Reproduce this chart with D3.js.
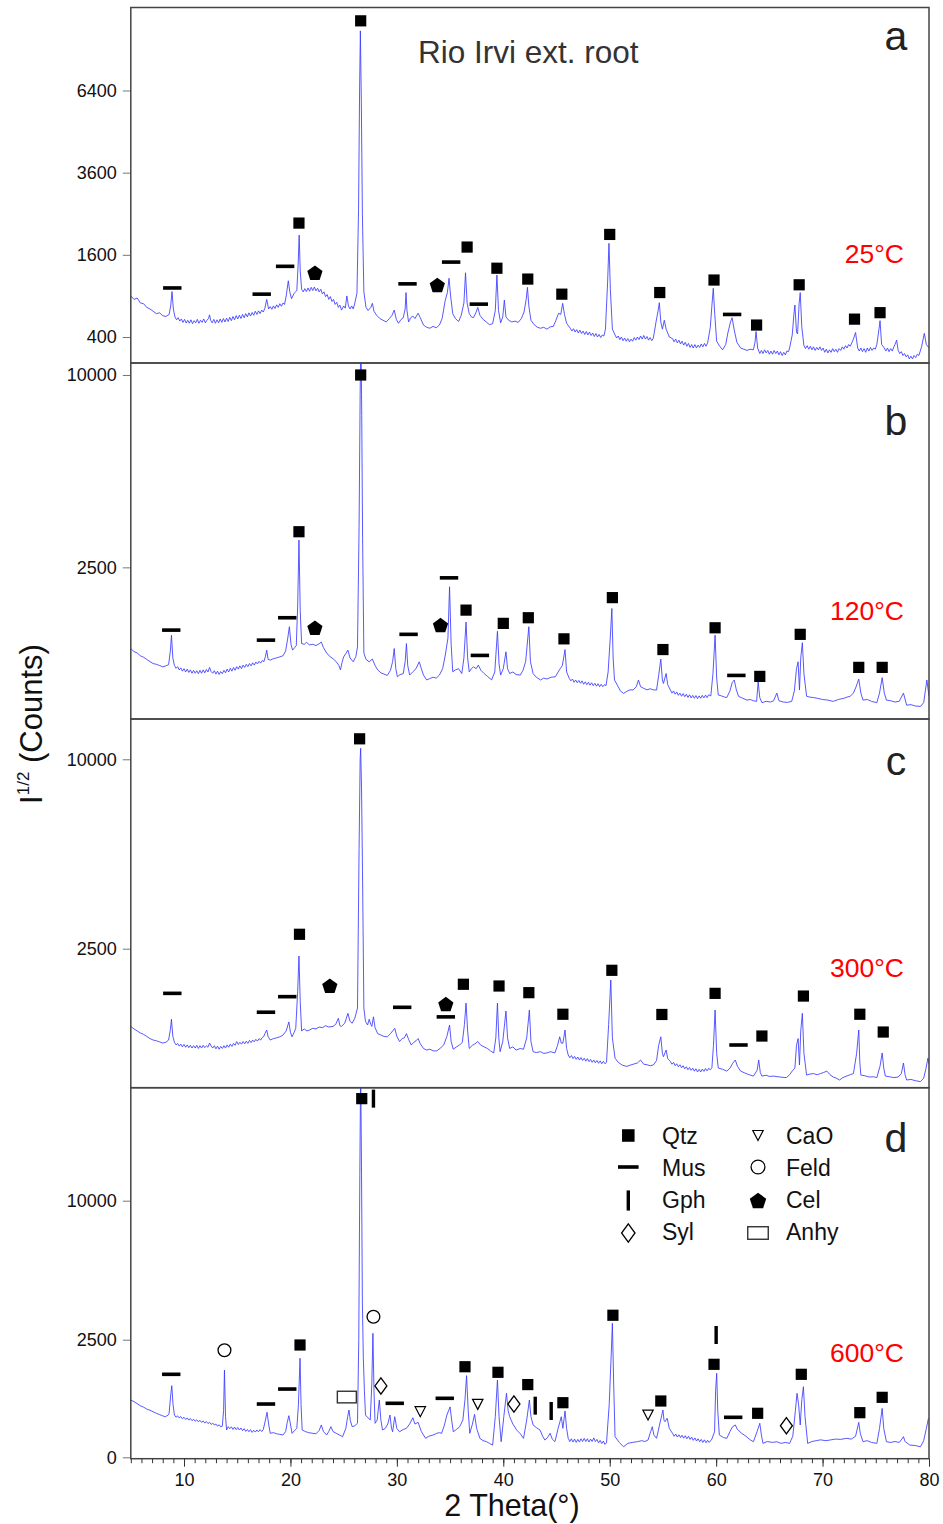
<!DOCTYPE html>
<html>
<head>
<meta charset="utf-8">
<style>
  body { margin: 0; background: #fff; }
  text { font-family: "Liberation Sans", Arial, sans-serif; }
</style>
</head>
<body>
<div id="chart-area"></div>

<script src="https://cdn.jsdelivr.net/npm/d3@7"></script>
<script>

// ---- data ----
const panelLetters = ["a", "b", "c", "d"];
const panelTemps = ["25°C", "120°C", "300°C", "600°C"];
const sampleTitle = "Rio Irvi ext. root";

const yTicksA = [400, 1600, 3600, 6400];
const yTicksB = [2500, 10000];
const yTicksC = [2500, 10000];
const yTicksD = [0, 2500, 10000];

const yDomainA = [187, 10040];
const yDomainB = [112, 10580];
const yDomainC = [177, 12240];
const yDomainD = [0, 2500, 10000];

const xMajorTicks = [10, 20, 30, 40, 50, 60, 70, 80];
const xMinorTicks = d3.range(5, 81);

// [2theta, counts]
const scanA = [[5.0,900],[5.3,850],[5.6,870],[5.9,800],[6.2,790],[6.5,740],[6.8,720],[7.1,690],[7.4,660],[7.7,670],[8.0,635],[8.3,625],[8.6,650],[8.75,760],[8.87,965],[9.0,720],
[9.15,620],[9.3,585],[9.45,610],[9.6,570],[9.75,595],[9.9,555],[10.05,590],[10.2,548],[10.35,580],[10.5,545],[10.65,585],[10.8,540],[10.95,575],[11.1,550],[11.25,590],[11.4,545],[11.55,580],[11.7,555],[11.85,595],[12.0,550],[12.15,580],[12.3,600],[12.4,645],[12.5,580],[12.65,550],[12.8,590],[12.95,545],[13.1,585],[13.25,550],[13.4,595],[13.55,555],[13.7,600],[13.85,560],[14.0,605],[14.15,565],[14.3,615],[14.45,575],[14.6,625],[14.75,585],[14.9,635],[15.05,595],[15.2,640],[15.35,600],[15.5,650],[15.65,610],[15.8,660],[15.95,620],[16.1,670],[16.25,630],[16.4,675],[16.55,640],[16.7,690],[16.85,650],[17.0,695],[17.15,660],[17.3,705],[17.45,680],[17.6,730],
[17.77,850],[17.95,720],[18.1,750],[18.25,715],[18.4,760],[18.55,725],[18.7,775],[18.85,740],[19.0,790],[19.15,755],[19.3,800],[19.45,780],[19.6,900],
[19.8,1135],[19.95,950],[20.1,860],[20.35,940],[20.6,980],[20.72,1400],[20.82,2008],[20.92,1300],
[21.05,1000],[21.2,960],[21.35,1010],[21.5,965],[21.65,1020],[21.8,970],[21.95,1030],[22.1,980],[22.25,1035],[22.4,975],[22.55,1015],[22.7,960],[22.85,1000],[23.0,930],[23.15,960],[23.3,890],[23.45,920],[23.6,850],[23.75,890],[23.9,820],[24.05,850],[24.2,780],[24.35,810],[24.5,740],[24.65,770],[24.8,705],[25.0,760],[25.15,730],[25.3,900],[25.45,760],[25.6,720],[25.75,760],[25.9,720],[26.05,800],
[26.25,940],[26.4,2600],[26.5,6500],[26.57,8934],[26.66,6000],[26.76,2500],[26.9,960],[27.1,740],[27.3,700],[27.55,740],[27.7,795],[27.85,690],[28.1,640],[28.4,600],[28.7,580],[29.0,560],[29.3,600],[29.55,640],[29.75,705],[29.95,590],[30.15,545],[30.4,590],[30.6,610],[30.78,720],[30.86,950],[30.95,700],[31.1,560],[31.3,610],[31.5,630],[31.7,600],[32.0,665],[32.2,610],[32.5,525],[32.8,500],[33.1,490],[33.4,510],[33.7,495],[34.0,525],[34.25,600],[34.55,840],[34.75,950],[34.9,1176],[35.05,900],[35.25,660],[35.5,600],[35.8,565],[36.05,640],[36.3,800],[36.45,1270],[36.6,800],[36.8,660],[37.0,620],[37.2,610],[37.45,680],[37.6,740],[37.8,640],[38.1,590],[38.4,560],[38.7,530],[39.0,540],[39.25,700],[39.4,1230],[39.55,700],[39.75,550],[39.95,620],[40.1,840],[40.25,620],[40.5,580],[40.8,560],[41.1,570],[41.4,555],[41.7,600],[41.95,680],[42.15,850],[42.27,1030],[42.4,760],[42.6,580],[42.9,530],[43.2,500],[43.5,490],[43.8,500],[44.1,480],[44.4,505],[44.7,510],[44.95,580],[45.2,665],[45.4,650],[45.58,795],[45.75,650],[45.95,545],
[46.3,490],[46.45,460],[46.6,485],[46.75,450],[46.9,475],[47.05,440],[47.2,470],[47.35,435],[47.5,460],[47.65,425],[47.8,455],[47.95,420],[48.1,450],[48.25,415],[48.4,440],[48.55,405],[48.7,435],[48.85,400],[49.0,425],[49.15,395],[49.3,420],[49.45,410],[49.6,480],
[49.8,1100],[49.93,1832],[50.06,1000],[50.25,480],
[50.5,420],[50.65,390],[50.8,410],[50.95,375],[51.1,400],[51.25,365],[51.4,390],[51.55,360],[51.7,385],[51.85,355],[52.0,380],[52.15,360],[52.3,395],[52.45,370],[52.6,400],[52.75,375],[52.9,410],[53.05,380],[53.2,415],[53.35,380],[53.5,405],[53.65,370],[53.8,395],[53.95,365],[54.1,390],
[54.35,560],[54.55,700],[54.66,804],[54.8,560],[54.95,480],[55.13,580],[55.3,480],[55.6,400],
[55.9,385],[56.05,355],[56.2,380],[56.35,345],[56.5,370],[56.65,335],[56.8,360],[56.95,325],[57.1,350],[57.25,315],[57.4,340],[57.55,305],[57.7,330],[57.85,300],[58.0,330],[58.15,300],[58.3,325],[58.45,305],[58.6,335],[58.75,310],[58.9,340],[59.05,315],[59.2,345],
[59.45,500],[59.6,760],[59.73,1015],[59.87,650],[60.05,360],[60.3,320],[60.6,285],[60.9,330],[61.1,440],[61.35,560],[61.5,610],[61.7,470],[61.95,350],[62.3,300],[62.6,290],[62.9,280],[63.2,290],[63.5,285],[63.65,350],[63.75,455],[63.9,300],
[64.1,255],[64.25,280],[64.4,255],[64.55,285],[64.7,260],[64.85,280],[65.0,250],[65.15,275],[65.3,250],[65.45,280],[65.6,255],[65.75,275],[65.9,245],[66.05,270],[66.2,240],[66.35,265],[66.5,245],[66.65,275],[66.8,270],[66.9,300],
[67.15,420],[67.3,640],[67.4,772],[67.55,450],[67.65,430],[67.8,800],[67.9,949],[68.05,500],
[68.25,320],[68.4,295],[68.55,320],[68.7,290],[68.85,315],[69.0,285],[69.15,310],[69.3,280],[69.45,305],[69.6,285],[69.75,310],[69.9,280],[70.05,300],[70.2,265],[70.35,290],[70.5,260],[70.65,285],[70.8,265],[70.95,295],[71.1,270],[71.25,290],[71.4,265],[71.55,295],[71.7,280],[71.85,310],[72.0,290],[72.15,320],[72.3,300],[72.45,330],[72.6,315],[72.75,345],[72.9,380],
[73.1,445],[73.3,300],[73.45,275],[73.6,300],[73.75,270],[73.9,295],[74.05,265],[74.2,300],[74.35,275],[74.5,305],[74.65,280],[74.8,300],[74.95,290],[75.1,330],
[75.3,480],[75.4,575],[75.55,330],
[75.8,300],[75.95,275],[76.1,300],[76.25,270],[76.4,295],[76.55,275],[76.7,310],[76.8,330],[76.96,370],[77.1,280],[77.25,255],[77.4,270],[77.55,240],[77.7,255],[77.85,230],[78.0,245],[78.15,215],[78.3,235],[78.45,215],[78.6,240],[78.75,225],[78.9,250],[79.05,240],
[79.3,310],[79.56,437],[79.75,330],[80.0,300]];

const scanB = [[5.0,835],[5.3,790],[5.6,770],[5.9,730],[6.2,710],[6.5,680],[6.8,650],[7.1,625],[7.4,615],[7.7,600],[8.0,583],[8.3,595],[8.55,610],[8.72,800],[8.82,1049],[8.95,700],
[9.1,600],[9.25,565],[9.4,585],[9.55,545],[9.7,570],[9.85,530],[10.0,560],[10.15,520],[10.3,555],[10.45,515],[10.6,545],[10.75,505],[10.9,540],[11.05,505],[11.2,535],[11.35,500],[11.5,540],[11.65,505],[11.8,545],[11.95,510],[12.1,550],[12.25,520],[12.4,575],[12.55,525],[12.7,505],[12.85,535],[13.0,495],[13.15,530],[13.3,490],[13.45,525],[13.6,500],[13.75,540],[13.9,510],[14.05,555],[14.2,520],[14.35,565],[14.5,530],[14.65,575],[14.8,540],[14.95,585],[15.1,555],[15.25,595],[15.4,560],[15.55,605],[15.7,575],[15.85,615],[16.0,585],[16.15,625],[16.3,595],[16.45,635],[16.6,605],[16.75,645],[16.9,620],[17.05,655],[17.2,630],[17.35,665],[17.5,650],
[17.65,720],[17.77,811],[17.9,680],[18.1,670],[18.4,690],[18.7,700],[19.0,715],[19.3,730],[19.55,800],[19.75,1000],[19.9,1195],[20.05,900],[20.2,811],[20.4,850],[20.55,880],[20.68,1600],[20.8,3260],[20.92,1500],[21.05,912],[21.3,900],[21.5,930],[21.8,890],[22.1,900],[22.4,880],[22.7,910],[22.9,935],[23.1,850],[23.4,770],[23.7,720],[24.0,690],[24.3,650],[24.55,600],[24.7,545],[24.85,640],[25.0,715],[25.2,760],[25.4,811],[25.6,700],[25.9,648],[26.15,720],[26.3,860],[26.45,3668],[26.55,9000],[26.62,12500],[26.7,8000],[26.78,3300],[26.9,770],[27.1,680],[27.4,648],[27.7,685],[27.95,600],[28.2,545],[28.5,510],[28.8,495],[29.1,480],[29.4,540],[29.6,650],[29.75,835],[29.9,560],[30.05,465],[30.3,490],[30.6,500],[30.78,650],[30.9,912],[31.02,600],[31.2,484],[31.5,522],[31.8,560],[32.1,648],[32.3,560],[32.5,484],[32.8,430],[33.1,445],[33.4,460],[33.7,450],[34.0,484],[34.3,560],[34.55,739],[34.8,1000],[34.95,2021],[35.1,900],[35.25,522],[35.5,545],[35.8,560],[36.1,502],[36.3,700],[36.5,1280],[36.65,700],[36.8,522],[37.0,560],[37.2,583],[37.45,560],[37.65,605],[37.9,540],[38.2,502],[38.5,470],[38.9,430],[39.2,520],[39.45,1115],[39.6,620],[39.75,484],[40.0,560],[40.25,787],[40.4,560],[40.6,502],[40.9,520],[41.2,490],[41.6,484],[41.85,540],[42.1,650],[42.4,1195],[42.55,650],[42.8,502],[43.1,460],[43.5,430],[43.8,450],[44.1,440],[44.5,460],[44.9,465],[45.15,520],[45.35,560],[45.55,600],[45.8,820],[45.95,520],
[46.2,447],[46.35,420],[46.5,440],[46.65,405],[46.8,430],[46.95,400],[47.1,425],[47.25,395],[47.4,420],[47.55,385],[47.7,410],[47.85,380],[48.0,405],[48.15,375],[48.3,400],[48.45,370],[48.6,395],[48.75,365],[48.9,390],[49.05,360],[49.2,385],[49.35,360],[49.5,380],[49.65,370],
[49.85,520],[50.05,1000],[50.2,1545],[50.32,700],[50.45,429],[50.8,360],[51.0,320],[51.3,297],[51.6,315],[51.9,330],[52.2,328],[52.5,360],[52.7,429],[52.9,360],[53.2,344],[53.5,330],[53.8,340],[54.1,330],[54.4,328],[54.6,480],[54.8,685],[54.95,430],[55.05,393],[55.3,502],[55.45,380],
[55.7,328],[55.85,300],[56.0,320],[56.15,290],[56.3,310],[56.45,280],[56.6,300],[56.75,272],[56.9,295],[57.05,268],[57.2,290],[57.35,262],[57.5,285],[57.65,258],[57.8,280],[57.95,255],[58.1,278],[58.25,252],[58.4,275],[58.55,255],[58.7,280],[58.85,258],[59.0,282],[59.15,260],[59.3,285],[59.5,275],
[59.7,500],[59.9,1049],[60.05,450],[60.2,283],[60.5,275],[60.8,265],[61.0,261],[61.3,320],[61.5,400],[61.7,429],[61.9,330],[62.1,272],[62.5,255],[62.9,240],[63.2,245],[63.5,235],[63.8,230],[63.95,410],[64.1,260],[64.3,220],[64.7,230],[65.1,225],[65.4,235],[65.7,300],[65.9,235],[66.3,225],[66.7,222],[67.1,230],[67.35,320],[67.55,560],[67.7,648],[67.83,328],[67.95,700],[68.1,925],[68.25,500],[68.5,272],[68.8,265],[69.13,261],[69.5,255],[70.0,245],[70.5,240],[71.0,230],[71.5,245],[72.0,255],[72.3,265],[72.6,272],[72.9,300],[73.15,360],[73.4,440],[73.6,300],[73.8,240],[74.2,245],[74.6,230],[75.1,220],[75.35,300],[75.6,455],[75.8,300],[76.0,240],[76.4,235],[76.8,225],[77.2,230],[77.6,300],[77.9,201],[78.3,205],[78.7,195],[79.2,192],[79.5,220],[79.8,429],[80.0,272]];

const scanC = [[5.0,870],[5.3,830],[5.6,800],[5.9,770],[6.2,750],[6.5,720],[6.8,690],[7.1,670],[7.4,660],[7.7,645],[8.0,630],[8.3,640],[8.55,670],[8.72,820],[8.82,985],[8.95,720],
[9.1,640],[9.25,605],[9.4,625],[9.55,590],[9.7,615],[9.85,580],[10.0,612],[10.15,575],[10.3,605],[10.45,570],[10.6,600],[10.75,565],[10.9,595],[11.05,565],[11.2,600],[11.35,560],[11.5,595],[11.65,565],[11.8,600],[11.95,570],[12.1,595],[12.25,575],[12.4,630],[12.55,590],[12.7,565],[12.85,595],[13.0,555],[13.15,590],[13.3,550],[13.45,585],[13.6,560],[13.75,595],[13.9,565],[14.05,605],[14.2,575],[14.35,615],[14.5,585],[14.65,625],[14.8,600],[14.95,650],[15.1,610],[15.25,640],[15.4,615],[15.55,650],[15.7,620],[15.85,655],[16.0,625],[16.15,665],[16.3,635],[16.45,670],[16.6,645],[16.75,680],[16.9,655],[17.05,690],[17.2,670],[17.35,705],[17.5,720],
[17.6,760],[17.77,814],[17.9,720],[18.1,670],[18.4,690],[18.7,700],[19.0,715],[19.3,740],[19.6,800],[19.85,940],[20.0,780],[20.15,715],[20.35,780],[20.5,840],[20.68,1500],[20.8,2310],[20.92,1300],[21.05,800],[21.3,830],[21.55,800],[21.8,814],[22.1,840],[22.4,830],[22.7,860],[23.0,850],[23.3,880],[23.6,860],[24.0,870],[24.25,900],[24.5,1000],[24.65,880],[24.8,870],[25.1,920],[25.4,1085],[25.6,950],[25.8,920],[26.05,1000],[26.3,1180],[26.45,5850],[26.55,10000],[26.6,10590],[26.68,8500],[26.77,5000],[26.9,1180],[27.05,950],[27.25,891],[27.4,985],[27.55,900],[27.65,870],[27.8,1025],[27.95,850],[28.2,760],[28.5,740],[28.8,720],[29.1,715],[29.4,760],[29.6,800],[29.8,840],[30.0,720],[30.25,650],[30.5,690],[30.7,700],[30.9,760],[31.1,680],[31.35,604],[31.6,640],[31.8,660],[32.0,690],[32.2,620],[32.5,560],[32.8,540],[33.1,550],[33.45,530],[33.75,530],[34.05,560],[34.4,604],[34.7,720],[34.95,891],[35.1,650],[35.3,550],[35.6,580],[35.9,604],[36.15,640],[36.35,900],[36.5,1270],[36.65,800],[36.8,560],[37.1,600],[37.35,620],[37.6,650],[37.9,600],[38.2,580],[38.5,560],[38.8,530],[39.1,505],[39.3,700],[39.45,1270],[39.58,700],[39.7,520],[39.95,650],[40.25,1125],[40.4,700],[40.6,560],[40.9,580],[41.2,540],[41.6,560],[41.9,550],[42.2,700],[42.45,1143],[42.6,650],[42.8,520],[43.1,510],[43.5,520],[43.8,500],[44.07,505],[44.45,520],[44.85,505],[45.1,600],[45.3,715],[45.45,628],[45.6,628],[45.8,814],[45.95,560],
[46.1,481],[46.25,450],[46.4,475],[46.55,440],[46.7,465],[46.85,432],[47.0,458],[47.15,425],[47.3,452],[47.45,420],[47.6,445],[47.75,412],[47.9,440],[48.05,408],[48.2,432],[48.35,400],[48.5,425],[48.65,395],[48.8,420],[48.95,390],[49.1,415],[49.25,385],[49.4,410],[49.55,385],[49.7,400],
[49.9,900],[50.1,1741],[50.25,700],[50.5,445],[50.8,400],[51.2,370],[51.6,358],[51.9,370],[52.2,380],[52.6,393],[52.9,425],[53.2,380],[53.5,375],[53.8,365],[54.1,372],[54.4,420],[54.6,600],[54.8,715],[54.95,500],[55.05,462],[55.3,540],[55.45,440],
[55.7,410],[55.85,380],[56.0,400],[56.15,365],[56.3,385],[56.45,355],[56.6,375],[56.75,345],[56.9,365],[57.05,335],[57.2,355],[57.35,325],[57.5,348],[57.65,320],[57.8,340],[57.95,312],[58.1,335],[58.25,305],[58.4,330],[58.55,305],[58.7,332],[58.85,310],[59.0,338],[59.15,315],[59.3,340],[59.45,325],[59.6,345],
[59.75,600],[59.9,1143],[60.05,500],[60.2,342],[60.6,330],[61.0,313],[61.3,340],[61.55,390],[61.8,425],[62.0,360],[62.3,313],[62.7,295],[63.1,280],[63.5,268],[63.85,320],[64.0,425],[64.15,300],[64.3,268],[64.7,275],[65.0,265],[65.4,268],[65.8,262],[66.2,258],[66.6,255],[66.9,280],[67.2,320],[67.4,342],[67.55,600],[67.7,690],[67.83,372],[67.95,800],[68.1,1085],[68.25,500],[68.5,277],[68.8,285],[69.13,290],[69.5,280],[69.8,290],[70.1,300],[70.4,313],[70.7,280],[71.0,260],[71.3,250],[71.6,235],[71.9,255],[72.3,270],[72.6,280],[72.9,290],[73.2,500],[73.4,814],[73.5,400],[73.6,277],[74.0,270],[74.4,260],[74.8,262],[75.1,255],[75.4,360],[75.6,505],[75.75,340],[75.9,268],[76.3,262],[76.7,255],[77.1,260],[77.4,290],[77.6,393],[77.75,280],[77.9,235],[78.3,240],[78.7,230],[79.2,222],[79.5,250],[79.7,330],[79.9,445],[80.0,380]];

const scanD = [[5.0,593],[5.3,560],[5.6,520],[5.9,480],[6.2,455],[6.5,420],[6.8,400],[7.1,375],[7.4,350],[7.7,330],[8.0,310],[8.25,298],[8.5,320],[8.6,350],[8.75,700],[8.85,927],[8.97,500],
[9.1,323],[9.25,290],[9.4,310],[9.55,280],[9.7,300],[9.85,268],[10.0,290],[10.15,258],[10.3,280],[10.45,250],[10.6,272],[10.75,242],[10.9,262],[11.05,235],[11.2,255],[11.35,228],[11.5,248],[11.65,220],[11.8,240],[11.95,212],[12.1,232],[12.25,205],[12.4,222],[12.55,195],[12.7,212],[12.85,188],[13.0,200],[13.15,175],[13.3,192],[13.45,168],[13.6,175],[13.72,400],[13.8,1376],[13.9,300],[14.0,135],[14.15,170],[14.3,148],[14.45,168],[14.6,140],[14.75,165],[14.9,138],[15.05,160],[15.2,135],[15.35,155],[15.5,128],[15.65,148],[15.8,122],[15.95,140],[16.1,118],[16.25,138],[16.4,112],[16.55,132],[16.7,115],[16.85,135],[17.0,118],[17.15,138],[17.3,120],[17.45,140],
[17.65,250],[17.8,366],[17.95,200],[18.1,104],[18.4,110],[18.7,100],[19.0,95],[19.3,90],[19.55,120],[19.7,220],[19.85,313],[20.0,200],[20.15,104],[20.4,130],[20.6,152],[20.75,500],[20.9,1772],[21.0,500],[21.1,135],[21.4,120],[21.7,110],[22.1,104],[22.4,100],[22.7,130],[22.9,189],[23.1,120],[23.4,90],[23.6,120],[23.8,169],[24.0,120],[24.3,104],[24.6,90],[24.9,77],[25.2,150],[25.38,300],[25.5,404],[25.62,250],[25.8,169],[26.05,180],[26.3,209],[26.42,2500],[26.52,12000],[26.6,22000],[26.68,12000],[26.76,4000],[26.85,1775],[26.95,800],[27.05,323],[27.3,280],[27.5,252],[27.65,1000],[27.75,2735],[27.85,800],[27.95,209],[28.15,250],[28.35,593],[28.5,250],[28.65,135],[28.9,150],[29.15,200],[29.35,323],[29.5,150],[29.6,118],[29.8,298],[30.0,150],[30.25,118],[30.6,140],[30.9,152],[31.2,200],[31.5,283],[31.7,200],[32.0,221],[32.3,120],[32.7,65],[33.0,80],[33.4,90],[33.75,104],[34.0,110],[34.2,104],[34.45,180],[34.7,323],[35.0,460],[35.15,250],[35.3,118],[35.6,140],[35.9,169],[36.2,250],[36.4,600],[36.55,1205],[36.7,400],[36.85,104],[37.1,200],[37.3,334],[37.5,150],[37.8,65],[38.1,50],[38.4,45],[38.7,35],[39.0,27],[39.25,300],[39.45,1080],[39.6,300],[39.8,44],[40.05,300],[40.3,740],[40.45,400],[40.6,298],[40.9,200],[41.25,135],[41.6,100],[41.9,65],[42.2,250],[42.45,593],[42.6,300],[42.8,189],[43.1,160],[43.45,135],[43.7,80],[43.9,54],[44.15,70],[44.4,104],[44.6,60],[44.85,44],[45.15,150],[45.45,298],[45.6,152],[45.8,388],[45.95,150],
[46.1,65],[46.25,45],[46.4,62],[46.55,42],[46.7,60],[46.85,40],[47.0,58],[47.15,42],[47.3,62],[47.45,45],[47.6,65],[47.75,45],[47.9,62],[48.05,42],[48.2,60],[48.35,45],[48.5,68],[48.65,45],[48.8,58],[48.95,38],[49.1,52],[49.25,34],[49.4,48],[49.55,30],[49.7,38],
[49.95,500],[50.15,2000],[50.25,3125],[50.37,1000],[50.5,77],[50.9,40],[51.3,20],[51.7,35],[52.1,40],[52.6,44],[53.0,50],[53.3,45],[53.6,54],[53.85,120],[54.0,169],[54.15,90],[54.4,65],[54.7,200],[55.0,404],[55.1,250],[55.2,229],[55.4,275],[55.6,150],
[55.9,104],[56.05,80],[56.2,98],[56.35,74],[56.5,92],[56.65,70],[56.8,88],[56.95,66],[57.1,84],[57.25,62],[57.4,80],[57.55,58],[57.7,74],[57.85,52],[58.0,68],[58.15,48],[58.3,62],[58.45,44],[58.6,58],[58.75,40],[58.9,55],[59.05,38],[59.2,52],[59.35,40],[59.6,60],
[59.85,118],[59.95,800],[60.05,1275],[60.15,400],[60.3,90],[60.7,70],[61.0,65],[61.3,120],[61.55,170],[61.8,189],[62.0,140],[62.4,104],[62.8,80],[63.2,55],[63.5,44],[63.85,120],[64.1,209],[64.25,90],[64.4,35],[64.8,45],[65.3,40],[65.7,44],[66.1,35],[66.5,40],[66.9,35],[67.2,80],[67.45,400],[67.6,740],[67.75,500],[67.9,189],[68.05,600],[68.2,900],[68.35,300],[68.6,35],[69.0,45],[69.4,50],[69.8,55],[70.3,50],[70.7,54],[71.2,60],[71.7,58],[72.26,65],[72.7,60],[73.1,80],[73.4,221],[73.55,100],[73.8,44],[74.2,50],[74.6,40],[75.1,35],[75.35,150],[75.6,432],[75.75,150],[76.0,44],[76.4,40],[76.8,45],[77.2,40],[77.45,60],[77.6,77],[77.75,45],[78.2,27],[78.7,25],[79.2,20],[79.5,50],[79.75,150],[79.95,275]];

// phase markers: [phase, 2theta, counts at marker centre]
const marksA = [["Mus",8.9,1020],["Mus",17.3,926],["Mus",19.5,1384],["Qtz",20.8,2278],["Cel",22.3,1270],["Qtz",26.6,9400],["Mus",31.0,1085],["Cel",33.8,1066],["Mus",35.1,1462],["Qtz",36.6,1755],["Mus",37.7,784],["Qtz",39.4,1350],["Qtz",42.3,1163],["Qtz",45.5,926],["Qtz",50.0,2022],["Qtz",54.7,950],["Qtz",59.8,1147],["Mus",61.5,650],["Qtz",63.8,525],["Qtz",67.8,1070],["Qtz",73.0,593],["Qtz",75.4,672]];
const marksB = [["Mus",8.8,1135],["Mus",17.7,966],["Mus",19.7,1362],["Qtz",20.8,3512],["Cel",22.3,1176],["Qtz",26.6,10000],["Mus",31.1,1062],["Cel",34.1,1225],["Mus",34.9,2235],["Qtz",36.5,1512],["Mus",37.8,735],["Qtz",40.0,1256],["Qtz",42.35,1362],["Qtz",45.7,987],["Qtz",50.25,1775],["Qtz",55.0,820],["Qtz",59.9,1176],["Mus",61.9,480],["Qtz",64.1,469],["Qtz",67.9,1062],["Qtz",73.4,576],["Qtz",75.6,576]];
const marksC = [["Mus",8.9,1460],["Mus",17.7,1104],["Mus",19.7,1394],["Qtz",20.85,2895],["Cel",23.7,1617],["Qtz",26.5,11110],["Mus",30.5,1192],["Cel",34.6,1252],["Mus",34.6,1024],["Qtz",36.25,1649],["Qtz",39.6,1612],["Qtz",42.4,1474],["Qtz",45.6,1069],["Qtz",50.2,1962],["Qtz",54.9,1065],["Qtz",59.9,1460],["Mus",62.1,604],["Qtz",64.3,726],["Qtz",68.2,1406],["Qtz",73.5,1069],["Qtz",75.7,784]];
const marksD = [["Mus",8.8,1245],["Feld",13.8,2070],["Mus",17.7,513],["Mus",19.7,842],["Qtz",20.9,2280],["Anhy",25.3,656],["Qtz",26.7,18690],["Gph",27.8,18690],["Feld",27.8,3395],["Syl",28.5,920],["Mus",29.8,527],["CaO",32.2,376],["Mus",34.5,629],["Qtz",36.4,1483],["CaO",37.6,507],["Qtz",39.5,1306],["Syl",41.0,513],["Qtz",42.3,956],["Gph",43.0,482],["Gph",44.5,388],["Qtz",45.6,539],["Qtz",50.3,3457],["CaO",53.6,323],["Qtz",54.8,573],["Gph",60.0,2672],["Qtz",59.8,1563],["Mus",61.6,289],["Qtz",63.9,350],["Syl",66.6,180],["Qtz",68.0,1245],["Qtz",73.5,360],["Qtz",75.6,650]];

const legendCol1 = ["Qtz", "Mus", "Gph", "Syl"];
const legendCol2 = ["CaO", "Feld", "Cel", "Anhy"];

// ---- layout ----
const W = 943, H = 1524;
const plotLeft = 130.8, plotRight = 929;

const panels = [
  { top: 7.5,    bottom: 363,    yDomain: yDomainA, yRange: [363, 7.5],              ticks: yTicksA, scan: scanA, marks: marksA, letterY: 50,   tempY: 263 },
  { top: 363,    bottom: 719,    yDomain: yDomainB, yRange: [719, 364],              ticks: yTicksB, scan: scanB, marks: marksB, letterY: 435,  tempY: 620 },
  { top: 719,    bottom: 1087.7, yDomain: yDomainC, yRange: [1087.7, 719],           ticks: yTicksC, scan: scanC, marks: marksC, letterY: 775,  tempY: 977 },
  { top: 1087.7, bottom: 1458.7, yDomain: yDomainD, yRange: [1457.3, 1339.7, 1200.7], ticks: yTicksD, scan: scanD, marks: marksD, letterY: 1152, tempY: 1362 }
];

const svg = d3.select("#chart-area")
  .append("svg")
    .attr("width", W)
    .attr("height", H);

const x = d3.scaleLinear().domain([5, 80]).range([plotLeft, plotRight]);

function pentagon(R) {
  const pts = d3.range(5).map(k => {
    const a = -Math.PI / 2 + k * 2 * Math.PI / 5;
    return [R * Math.cos(a), R * Math.sin(a) + R * 0.1];
  });
  return "M" + pts.join("L") + "Z";
}

// draws one phase symbol centred on (cx, cy); k scales it
function drawMark(g, kind, cx, cy, k) {
  const s = g.append("g").attr("transform", `translate(${cx},${cy})`);
  if (kind === "Qtz") {
    s.append("rect").attr("x", -5.6 * k).attr("y", -5.6 * k)
      .attr("width", 11.2 * k).attr("height", 11.2 * k).attr("fill", "#000");
  } else if (kind === "Mus") {
    s.append("rect").attr("x", -9.2 * k).attr("y", -1.8).attr("width", 18.4 * k)
      .attr("height", 3.6).attr("fill", "#000");
  } else if (kind === "Gph") {
    s.append("rect").attr("x", -1.7).attr("y", -9 * k).attr("width", 3.4)
      .attr("height", 18 * k).attr("fill", "#000");
  } else if (kind === "Syl") {
    const w = 6 * k, h = 8.2 * k;
    s.append("path").attr("d", `M0,${-h}L${w},0L0,${h}L${-w},0Z`)
      .attr("fill", "#fff").attr("stroke", "#000").attr("stroke-width", 1.3);
  } else if (kind === "CaO") {
    const w = 5.2 * k, h = 5 * k;
    s.append("path").attr("d", `M${-w},${-h}L${w},${-h}L0,${h}Z`)
      .attr("fill", "#fff").attr("stroke", "#000").attr("stroke-width", 1.2);
  } else if (kind === "Feld") {
    s.append("circle").attr("r", 6.4 * k)
      .attr("fill", "#fff").attr("stroke", "#000").attr("stroke-width", 1.3);
  } else if (kind === "Cel") {
    s.append("path").attr("d", pentagon(8 * k)).attr("fill", "#000");
  } else if (kind === "Anhy") {
    s.append("rect").attr("x", -9.5 * k).attr("y", -5.8 * k)
      .attr("width", 19 * k).attr("height", 11.6 * k)
      .attr("fill", "#fff").attr("stroke", "#333").attr("stroke-width", 1.4);
  }
}

panels.forEach((p, i) => {
  const y = d3.scaleSqrt().domain(p.yDomain).range(p.yRange);

  const clipId = "clip" + i;
  svg.append("clipPath").attr("id", clipId)
    .append("rect")
      .attr("x", plotLeft).attr("y", p.top)
      .attr("width", plotRight - plotLeft).attr("height", p.bottom - p.top);

  const line = d3.line()
    .x(d => x(d[0]))
    .y(d => y(d[1]));

  svg.append("path")
    .datum(p.scan)
    .attr("clip-path", `url(#${clipId})`)
    .attr("fill", "none")
    .attr("stroke", "#3a3aff")
    .attr("stroke-width", 0.85)
    .attr("stroke-linejoin", "round")
    .attr("d", line);

  // y ticks, pointing out
  const yAxis = svg.append("g").attr("transform", `translate(${plotLeft},0)`)
    .call(d3.axisLeft(y).tickValues(p.ticks).tickSize(8).tickPadding(6)
      .tickFormat(d3.format("d")));
  yAxis.select(".domain").remove();
  yAxis.selectAll(".tick line").attr("stroke", "#777");
  yAxis.selectAll(".tick text")
    .attr("font-size", 18).attr("fill", "#111")
    .attr("font-family", '"Liberation Sans", Arial, sans-serif');

  const mg = svg.append("g");
  p.marks.forEach(m => drawMark(mg, m[0], x(m[1]), y(m[2]), 1));

  svg.append("text")
    .attr("x", 896).attr("y", p.letterY)
    .attr("text-anchor", "middle")
    .attr("font-size", 41).attr("fill", "#222")
    .text(panelLetters[i]);

  svg.append("text")
    .attr("x", 904).attr("y", p.tempY)
    .attr("text-anchor", "end")
    .attr("font-size", 26.5).attr("fill", "#ff0000")
    .text(panelTemps[i]);

  svg.append("rect")
    .attr("x", plotLeft).attr("y", p.top)
    .attr("width", plotRight - plotLeft).attr("height", p.bottom - p.top)
    .attr("fill", "none").attr("stroke", "#444").attr("stroke-width", 1.5);
});

svg.append("text")
  .attr("x", 418).attr("y", 63)
  .attr("font-size", 31.5).attr("fill", "#333")
  .text(sampleTitle);

// bottom axis: 1 degree minor ticks, labelled every 10
const axisY = panels[3].bottom;
const minor = svg.append("g").attr("transform", `translate(0,${axisY})`)
  .call(d3.axisBottom(x).tickValues(xMinorTicks).tickSize(4.5).tickFormat(""));
minor.select(".domain").remove();
minor.selectAll(".tick line").attr("stroke", "#333");

const major = svg.append("g").attr("transform", `translate(0,${axisY})`)
  .call(d3.axisBottom(x).tickValues(xMajorTicks).tickSize(8).tickPadding(7));
major.select(".domain").remove();
major.selectAll(".tick line").attr("stroke", "#333");
major.selectAll(".tick text")
  .attr("font-size", 18).attr("fill", "#111")
  .attr("font-family", '"Liberation Sans", Arial, sans-serif');

svg.append("text")
  .attr("x", 512).attr("y", 1516)
  .attr("text-anchor", "middle")
  .attr("font-size", 30.5).attr("fill", "#111")
  .text("2 Theta(°)");

const yl = svg.append("text")
  .attr("transform", "translate(42,724) rotate(-90)")
  .attr("text-anchor", "middle")
  .attr("font-size", 31).attr("fill", "#111");
yl.append("tspan").text("I");
yl.append("tspan").attr("font-size", 17).attr("dy", -13).text("1/2");
yl.append("tspan").attr("dy", 13).text(" (Counts)");

// legend inside panel d
const lg = svg.append("g");
const rowMarkY = [1135.5, 1167, 1200.5, 1233];
const rowTextY = [1143.5, 1175.5, 1208, 1240];
legendCol1.forEach((name, r) => {
  drawMark(lg, name, 628.3, rowMarkY[r], 1.12);
  lg.append("text").attr("x", 662).attr("y", rowTextY[r])
    .attr("font-size", 23).attr("fill", "#111").text(name);
});
legendCol2.forEach((name, r) => {
  drawMark(lg, name, 758, rowMarkY[r], name === "CaO" ? 1.0 : 1.08);
  lg.append("text").attr("x", 786).attr("y", rowTextY[r])
    .attr("font-size", 23).attr("fill", "#111").text(name);
});

</script>
</body>
</html>
